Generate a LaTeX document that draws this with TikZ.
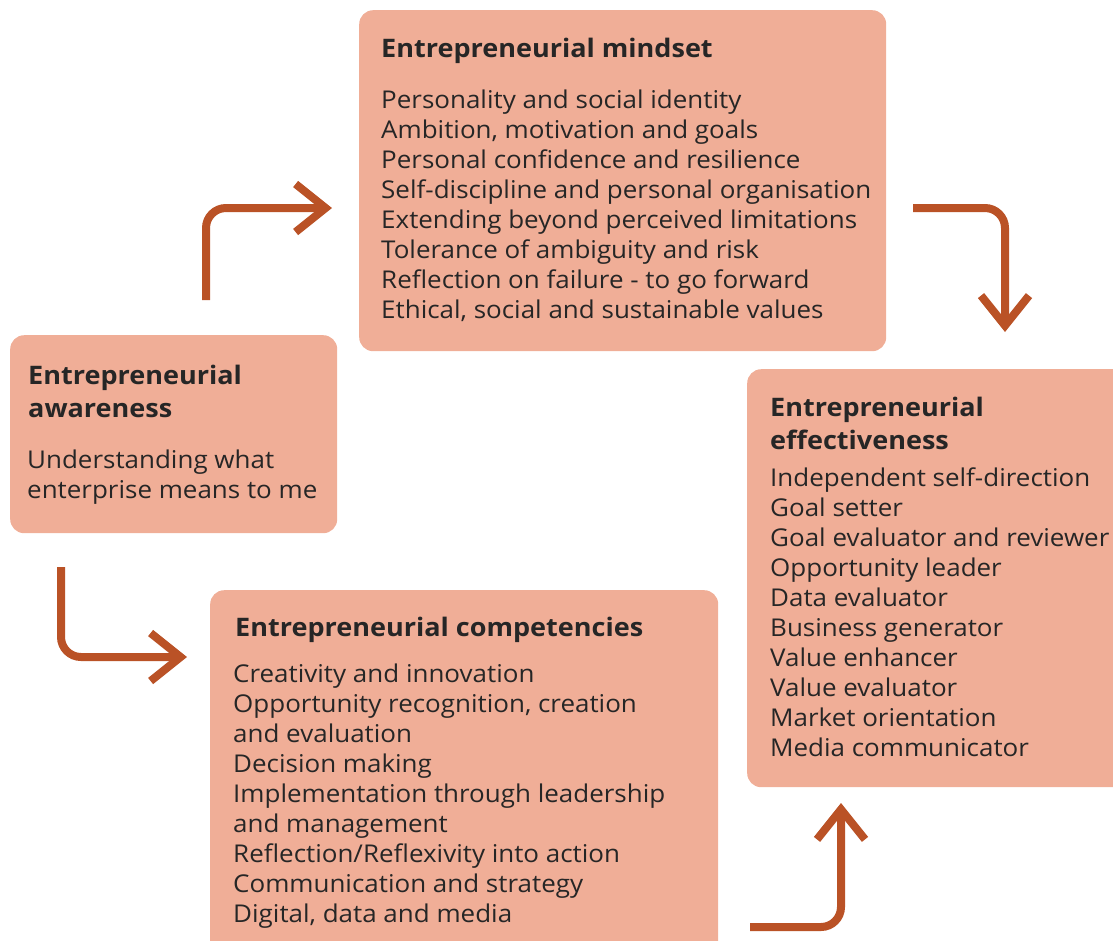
\documentclass[tikz,border=0pt]{standalone}
\usepackage{fontspec}
\setmainfont{Open Sans}[FakeStretch=1.06]
\usetikzlibrary{arrows.meta,positioning}
\definecolor{boxfill}{HTML}{F0AE97}
\definecolor{rust}{HTML}{BA5226}
\definecolor{ink}{HTML}{262626}

\begin{document}
\begin{tikzpicture}[
  x=1pt,y=-1pt,
  box/.style={fill=boxfill,rounded corners=14pt,anchor=north west,inner sep=0pt},
  head/.style={anchor=north west,inner sep=0pt,align=left,text=ink,font=\fontsize{25.5}{33}\selectfont\bfseries},
  body/.style={anchor=north west,inner sep=0pt,align=left,text=ink,font=\fontsize{24.5}{30}\selectfont},
  flow/.style={draw=rust,line width=8pt,rounded corners=20pt,
    -{Straight Barb[length=30pt,width=48pt,line cap=butt,line join=miter]}}
]
\useasboundingbox (0,0) rectangle (1113,940);

% boxes
\node[box,minimum width=527pt,minimum height=341pt] (mind) at (359,10) {};
\node[box,minimum width=327pt,minimum height=198pt] (aware) at (10,335) {};
\node[box,minimum width=390pt,minimum height=418pt] (effect) at (747,369) {};
\node[box,minimum width=508pt,minimum height=370pt] (comp) at (210,590) {};

% mindset
\node[head] (mindT) at ([shift={(22,28)}]mind.north west) {Entrepreneurial mindset};
\node[body] (mindB) at ([shift={(22,80)}]mind.north west) {Personality and social identity\\
  Ambition, motivation and goals\\
  Personal confidence and resilience\\
  Self-discipline and personal organisation\\
  Extending beyond perceived limitations\\
  Tolerance of ambiguity and risk\\
  Reflection on failure - to go forward\\
  Ethical, social and sustainable values};

% awareness
\node[head] (awareT) at ([shift={(18,30)}]aware.north west) {Entrepreneurial\\awareness};
\node[body] (awareB) at ([shift={(17,115)}]aware.north west) {Understanding what\\enterprise means to me};

% effectiveness
\node[head] (effectT) at ([shift={(23,28)}]effect.north west) {Entrepreneurial\\effectiveness};
\node[body] (effectB) at ([shift={(23,99)}]effect.north west) {Independent self-direction\\
  Goal setter\\
  Goal evaluator and reviewer\\
  Opportunity leader\\
  Data evaluator\\
  Business generator\\
  Value enhancer\\
  Value evaluator\\
  Market orientation\\
  Media communicator};

% competencies
\node[head] (compT) at ([shift={(25,27)}]comp.north west) {Entrepreneurial competencies};
\node[body] (compB) at ([shift={(23,74)}]comp.north west) {Creativity and innovation\\
  Opportunity recognition, creation\\
  and evaluation\\
  Decision making\\
  Implementation through leadership\\
  and management\\
  Reflection/Reflexivity into action\\
  Communication and strategy\\
  Digital, data and media};

% arrow ends
\coordinate (s1) at (206,300);
\coordinate (e1) at (332,208);
\coordinate (s2) at (913,208);
\coordinate (e2) at (1005,332);
\coordinate (s3) at (61,567);
\coordinate (e3) at (187,657);
\coordinate (s4) at (750,927);
\coordinate (e4) at (841,803);

\draw[flow] (s1) |- (e1);
\draw[flow] (s2) -| (e2);
\draw[flow] (s3) |- (e3);
\draw[flow] (s4) -| (e4);
\end{tikzpicture}
\end{document}
